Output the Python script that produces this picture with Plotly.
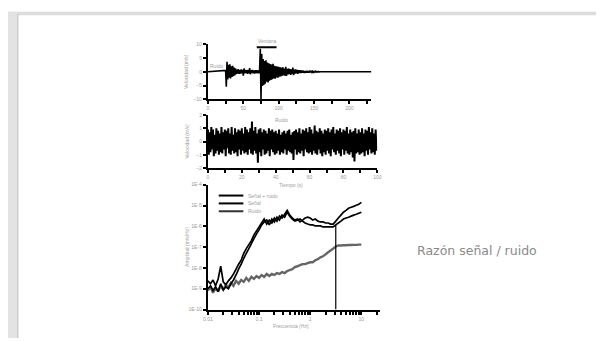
import numpy as np
import plotly.graph_objects as go

W, H = 600, 341

# ---------------- data ----------------
# Seismogram (top): quiet before 25 s, samples every 1 s from 25 to 159 s, quiet after
seis_start = 25.0
seis_dt = 1.0
seis_end = 231.0
seis_amp = [
    0.5, -5.4, 3.6, -2.8, 2.5, -2.2, 2.7, -2.4, 2.0, -1.9, 2.2, -1.6, 1.5, -1.3, 1.2,
    -0.9, 0.8, -0.7, 1.0, -0.8, 0.6, -0.7, 0.9, -0.6, 0.7, -1.4, 1.2, -0.6, 0.7, -0.5, 0.6,
    -0.8, 0.7, -0.6, 1.3, -0.9, 0.6, -0.5, 0.7, -0.6, 0.5, -0.7, 0.6, -0.5, 0.6, -0.6, 0.5,
    -0.6, 0.5,
    8.4, -10.0, 6.5, -5.2, 4.6, -4.8, 3.9, -4.3, 4.2, -3.6, 3.4, -3.9, 3.1, -3.3, 2.8, -3.0,
    2.6, -2.7, 2.9, -2.4, 2.2, -2.5, 2.0, -2.1, 1.9, -2.2, 1.8,
    -1.8, 1.6, -1.7, 1.5, -1.4, 1.6, -1.3, 1.2, -1.4, 1.8, -1.5, 1.1, -1.0, 1.2, -0.9, 1.0,
    -1.1, 0.9, -0.8, 1.5, -1.2, 0.8, -0.7, 0.9, -0.6, 0.7, -0.8, 0.6, -0.5, 0.6,
    -0.5, 0.5, -0.4, 0.5, -0.4, 0.3, -0.4, 0.3, -0.3, 0.4, -0.3, 0.2, -0.3, 0.2, -0.2, 0.3,
    -0.2, 0.2, -0.2, 0.1, -0.1, 0.2, -0.1, 0.1, -0.1, 0.1, -0.1, 0.0, 0.0,
]

# Noise window (middle): samples every 0.5 s over 100 s
noise_dt = 0.5
noise_amp = [
    0.9, -1.0, 0.7, -0.8, 1.1, -0.6, 0.9, -1.1, 0.5, -0.9, 1.0, -0.7, 0.8, -1.0, 0.6, -0.8, 1.1, -0.9, 0.7, -0.6,
    0.9, -1.1, 0.8, -0.5, 1.0, -0.9, 0.6, -1.0, 1.1, -0.7, 0.5, -0.9, 1.0, -0.8, 0.7, -1.1, 0.9, -0.6, 0.8, -1.0,
    1.0, -0.7, 0.6, -0.9, 1.1, -0.8, 0.9, -1.0, 0.7, -0.6, 1.0, -0.9, 1.5, -1.0, 0.8, -0.7, 1.1, -0.9, 0.6, -1.6,
    0.9, -0.8, 1.0, -1.1, 0.7, -0.6, 0.9, -1.0, 0.8, -0.9, 0.6, -0.7, 1.0, -1.1, 0.8, -0.6, 0.9, -0.8, 0.7, -1.0,
    0.8, -0.9, 0.6, -0.7, 0.9, -1.0, 0.5, -0.8, 0.7, -0.9, 0.8, -0.6, 0.6, -1.0, 0.8, -0.7, 0.9, -0.8, 0.5, -0.9,
    0.7, -1.4, 0.8, -0.6, 0.9, -1.0, 0.7, -0.8, 1.0, -0.9, 0.6, -0.7, 0.9, -1.1, 0.8, -0.6, 1.0, -0.8, 0.7, -0.9,
    1.1, -0.8, 0.9, -1.0, 0.6, -0.7, 1.2, -0.9, 0.8, -1.0, 0.7, -0.6, 1.0, -0.9, 0.8, -1.1, 0.6, -0.8, 0.9, -1.0,
    0.8, -0.7, 1.0, -0.9, 0.7, -1.1, 0.9, -0.6, 1.1, -0.8, 0.6, -1.0, 0.9, -0.7, 0.8, -0.9, 1.0, -1.1, 0.7, -0.6,
    0.9, -1.0, 0.8, -0.7, 1.1, -0.9, 0.6, -1.0, 0.9, -0.8, 0.7, -1.2, 0.8, -1.5, 1.0, -0.9, 0.6, -0.8, 0.9, -1.0,
    0.7, -0.9, 1.0, -0.8, 0.6, -1.1, 0.9, -0.7, 0.8, -1.0, 1.1, -0.6, 0.7, -0.9, 1.0, -0.8, 0.6, -1.0, 0.9, -0.7,
]

# Spectra (bottom): log10 amplitude on a log-frequency grid, 0.01 Hz to 10 Hz, 20 points per decade
spec_log_fmin = -2.0
spec_log_step = 0.05
spec_signal_a = [
    -8.62, -8.76, -8.58, -8.86, -8.53, -7.92, -8.67, -8.81, -8.62, -8.48,
    -8.29, -8.06, -7.82, -7.63, -7.30, -7.07, -6.88, -6.69, -6.41, -6.22,
    -6.03, -5.84, -5.65, -5.89, -5.70, -5.84, -5.60, -5.75, -5.51, -5.60,
    -5.42, -5.23, -5.46, -5.60, -5.70, -5.65, -5.79, -5.70, -5.60, -5.56,
    -5.60, -5.70, -5.65, -5.75, -5.79, -5.79, -5.84, -5.84, -5.89, -5.89,
    -5.75, -5.60, -5.46, -5.32, -5.23, -5.13, -5.08, -5.04, -4.99, -4.94, -4.85,
]
spec_signal_b = [
    -9.00, -8.86, -9.09, -8.91, -9.14, -8.76, -9.05, -8.91, -9.00, -8.76,
    -8.58, -8.34, -8.06, -7.82, -7.54, -7.30, -7.07, -6.83, -6.59, -6.36,
    -6.17, -5.93, -5.79, -5.70, -5.93, -5.65, -5.79, -5.56, -5.70, -5.46,
    -5.56, -5.32, -5.51, -5.65, -5.75, -5.70, -5.65, -5.75, -5.84, -5.89,
    -5.93, -5.93, -5.98, -5.98, -5.98, -6.03, -6.03, -6.03, -6.03, -6.03,
    -5.93, -5.84, -5.75, -5.65, -5.60, -5.56, -5.51, -5.46, -5.42, -5.37, -5.32,
]
spec_noise = [
    -9.09, -8.91, -9.19, -8.95, -9.14, -8.86, -9.05, -8.81, -8.95, -8.72,
    -8.86, -8.62, -8.76, -8.58, -8.67, -8.48, -8.62, -8.43, -8.53, -8.39,
    -8.48, -8.34, -8.43, -8.29, -8.39, -8.29, -8.34, -8.25, -8.29, -8.20,
    -8.25, -8.15, -8.10, -8.06, -7.96, -7.92, -7.87, -7.82, -7.82, -7.77,
    -7.73, -7.73, -7.63, -7.58, -7.49, -7.44, -7.35, -7.25, -7.16, -7.07,
    -6.97, -6.92, -6.92, -6.91, -6.91, -6.90, -6.90, -6.89, -6.89, -6.88, -6.88,
]
corner_freq = 3.16  # Hz, vertical marker

legend_labels = ["Señal + ruido", "Señal", "Ruido"]
side_text = "Razón señal / ruido"

# ---------------- derived series ----------------
seis_t = [0.0] + [seis_start + i * seis_dt for i in range(len(seis_amp))] + [seis_end]
seis_y = [0.0] + seis_amp + [0.0]
noise_t = [i * noise_dt for i in range(len(noise_amp))]
spec_f = [10 ** (spec_log_fmin + i * spec_log_step) for i in range(len(spec_signal_a))]
pw = lambda arr: [10 ** v for v in arr]
corner_idx = int(round((np.log10(corner_freq) - spec_log_fmin) / spec_log_step))
corner_top = 10 ** spec_signal_b[corner_idx]


def px(x):
    return x / W


def py(y):
    return 1 - y / H


def line(color, width):
    return dict(color=color, width=width, simplify=False)


fig = go.Figure()
fig.add_trace(go.Scatter(x=seis_t, y=seis_y, mode="lines", line=line("black", 1.6),
                         xaxis="x", yaxis="y", showlegend=False))
fig.add_trace(go.Scatter(x=noise_t, y=noise_amp, mode="lines", line=line("black", 2.0),
                         xaxis="x2", yaxis="y2", showlegend=False))
fig.add_trace(go.Scatter(x=spec_f, y=pw(spec_noise), mode="lines", line=line("#666666", 2.4),
                         xaxis="x3", yaxis="y3", showlegend=False))
fig.add_trace(go.Scatter(x=spec_f, y=pw(spec_signal_b), mode="lines", line=line("black", 1.7),
                         xaxis="x3", yaxis="y3", showlegend=False))
fig.add_trace(go.Scatter(x=spec_f, y=pw(spec_signal_a), mode="lines", line=line("black", 1.7),
                         xaxis="x3", yaxis="y3", showlegend=False))
fig.add_trace(go.Scatter(x=[corner_freq, corner_freq], y=[1e-10, corner_top], mode="lines",
                         line=line("black", 1.2), xaxis="x3", yaxis="y3", showlegend=False))

tickfont = dict(size=5, color="#9a9a9a", family="Liberation Sans")
axis_common = dict(showline=True, linecolor="black", linewidth=2, ticks="outside", ticklen=3,
                   tickwidth=1.5, tickcolor="black", showgrid=False, zeroline=False,
                   tickfont=tickfont)

fig.update_layout(
    width=W, height=H, margin=dict(l=0, r=0, t=0, b=0),
    paper_bgcolor="white", plot_bgcolor="rgba(0,0,0,0)",
    xaxis=dict(domain=[px(206), px(372)], range=[0, 231], anchor="y", dtick=50,
               minor=dict(dtick=25, ticks="outside", ticklen=3, tickcolor="black", tickwidth=1.5),
               **axis_common),
    yaxis=dict(domain=[py(98), py(42)], range=[-10, 10], anchor="x", dtick=5, **axis_common),
    xaxis2=dict(domain=[px(206), px(378)], range=[0, 100], anchor="y2", dtick=20,
                minor=dict(dtick=10, ticks="outside", ticklen=3, tickcolor="black", tickwidth=1.5),
                **axis_common),
    yaxis2=dict(domain=[py(168), py(114)], range=[-2, 2], anchor="x2", dtick=1, **axis_common),
    xaxis3=dict(domain=[px(206), px(381)], type="log", range=[-2.0, 1.37], anchor="y3",
                tickvals=[m * 10 ** e for e in range(-2, 2) for m in range(1, 10)],
                ticktext=[({-2: "0.01", -1: "0.1", 0: "1", 1: "10"}[e] if m == 1 else "")
                          for e in range(-2, 2) for m in range(1, 10)],
                **axis_common),
    yaxis3=dict(domain=[py(312), py(185)], type="log", range=[-10, -4], anchor="x3",
                tickvals=[10 ** e for e in range(-10, -3)],
                ticktext=["1E%d" % e for e in range(-10, -3)],
                **axis_common),
)

shapes = [
    # slide frame
    dict(type="rect", xref="paper", yref="paper", x0=px(3), x1=1, y0=py(12.5), y1=py(9),
         fillcolor="#dcdcdc", line=dict(width=0), layer="below"),
    dict(type="rect", xref="paper", yref="paper", x0=px(3), x1=px(12.5), y0=0, y1=py(9),
         fillcolor="#e3e3e3", line=dict(width=0), layer="below"),
    dict(type="line", xref="paper", yref="paper", x0=px(13), x1=px(13), y0=0, y1=py(11),
         line=dict(color="#cdcdcd", width=1.5)),
    # window bar on the seismogram
    dict(type="line", xref="x", yref="paper", x0=69, x1=97, y0=py(45), y1=py(45),
         line=dict(color="black", width=2)),
]
# legend samples
for k, yy in enumerate([196, 204, 212]):
    shapes.append(dict(type="line", xref="paper", yref="paper", x0=px(217), x1=px(242),
                       y0=py(yy), y1=py(yy), line=dict(color="black" if k < 2 else "#333", width=2)))
fig.update_layout(shapes=shapes)

small = dict(size=5, color="#a0a0a0", family="Liberation Sans")
ann = [
    dict(x=px(266), y=py(39), text="Ventana"),
    dict(x=px(215), y=py(64), text="Ruido"),
    dict(x=px(281), y=py(119), text="Ruido"),
    dict(x=px(290), y=py(185), text="Tiempo (s)"),
    dict(x=px(290), y=py(329), text="Frecuencia (Hz)"),
    dict(x=px(184), y=py(70), text="Velocidad (m/s)", textangle=-90),
    dict(x=px(184), y=py(141), text="Velocidad (m/s)", textangle=-90),
    dict(x=px(184), y=py(248), text="Amplitud (m/s/Hz)", textangle=-90),
]
annotations = []
for a in ann:
    a.update(xref="paper", yref="paper", showarrow=False, font=small,
             xanchor="center", yanchor="middle")
    annotations.append(a)
for lbl, yy in zip(legend_labels, [196, 204, 212]):
    annotations.append(dict(x=px(245), y=py(yy), xref="paper", yref="paper", text=lbl,
                            showarrow=False, xanchor="left", yanchor="middle", font=small))
annotations.append(dict(x=px(479), y=py(252), xref="paper", yref="paper", text=side_text,
                        showarrow=False, xanchor="center", yanchor="middle",
                        font=dict(size=12.5, color="#8a8a8a", family="DejaVu Sans")))
fig.update_layout(annotations=annotations)

fig.write_html("out.html")
